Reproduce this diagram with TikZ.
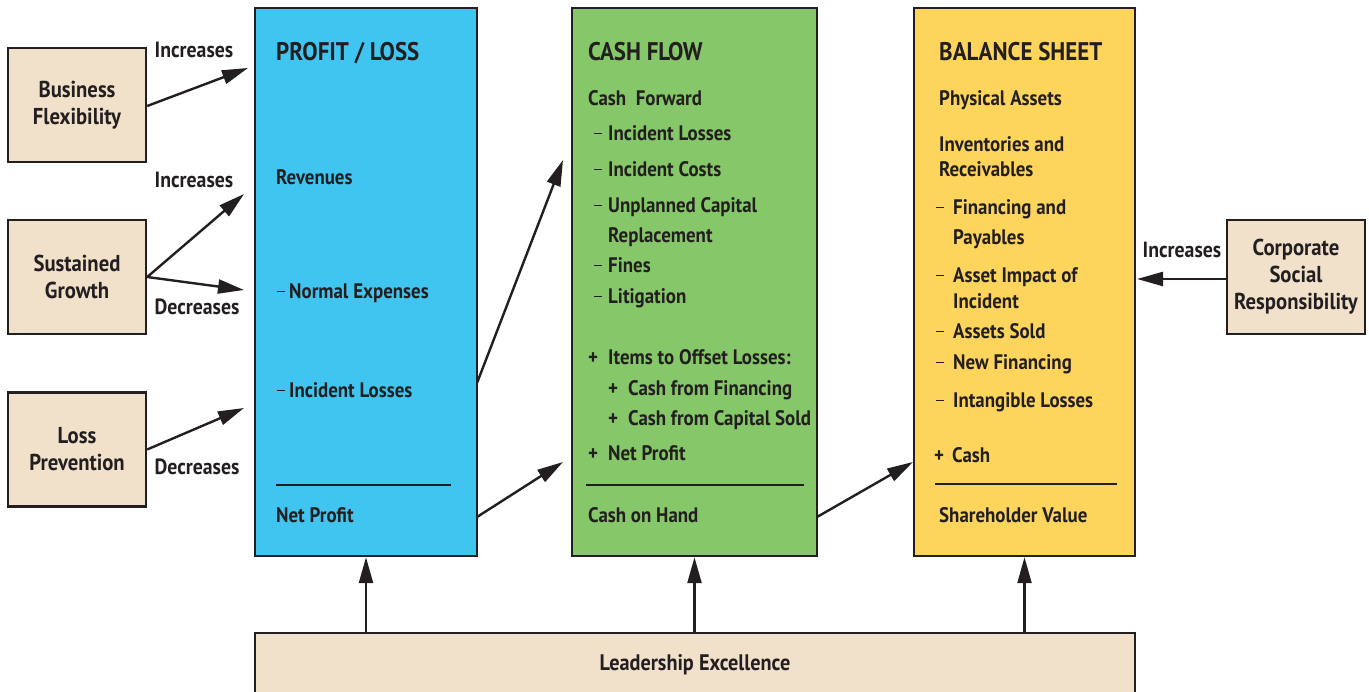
\documentclass[tikz,border=0pt]{standalone}
\usepackage{fontspec}
\setmainfont{PT Sans}[FakeStretch=0.9]
\usetikzlibrary{arrows.meta}
\definecolor{plblue}{HTML}{40C5F1}
\definecolor{cfgreen}{HTML}{86C76A}
\definecolor{bsyellow}{HTML}{FED55C}
\definecolor{beige}{HTML}{F1E1CB}
\definecolor{ink}{HTML}{231F20}
\newcommand\di[2]{\makebox[#1][l]{\rule[6.5pt]{8pt}{1.8pt}}#2}
\newcommand\pl[2]{\makebox[#1][l]{+}#2}
\begin{document}
\begin{tikzpicture}[x=1pt,y=-1pt,
  bigbox/.style={draw=ink,line width=2.4pt,inner sep=0pt,minimum height=548pt},
  sidebox/.style={draw=ink,line width=2.4pt,fill=beige,inner sep=0pt,minimum width=138pt,minimum height=114pt,align=center,font=\fontsize{23}{27}\selectfont\bfseries,text=ink},
  txt/.style={anchor=base west,inner sep=0pt,font=\fontsize{21}{25}\selectfont\bfseries,text=ink},
  head/.style={anchor=base west,inner sep=0pt,font=\fontsize{25.5}{30}\selectfont\bfseries,text=ink},
  lbl/.style={anchor=base,inner sep=0pt,font=\fontsize{22}{26}\selectfont\bfseries,text=ink},
  arr/.style={draw=ink,line width=2.4pt,-{Triangle[length=26pt,width=14pt]}},
  rule/.style={draw=ink,line width=2pt}]
\useasboundingbox (0,0) rectangle (1369,692);
\clip (0,0) rectangle (1369,692);

% big boxes
\node[bigbox,fill=plblue,minimum width=222pt] (plb) at (366,282) {};
\node[bigbox,fill=cfgreen,minimum width=245pt] (cfb) at (694.5,282) {};
\node[bigbox,fill=bsyellow,minimum width=221pt] (bsb) at (1024.5,282) {};

% side boxes
\node[sidebox] (bf) at (77,105) {Business\\Flexibility};
\node[sidebox] (sg) at (77,277) {Sustained\\Growth};
\node[sidebox] (lp) at (77,449.5) {Loss\\Prevention};
\node[sidebox] (csr) at (1296,277) {Corporate\\Social\\Responsibility};
\node[sidebox,minimum width=880pt,minimum height=64pt,font=\fontsize{22.5}{27}\selectfont\bfseries] (le) at (695,665) {Leadership Excellence};

% profit / loss
\node[head] (plt) at (276,61) {PROFIT / LOSS};
\node[txt] (pl1) at (276,185) {Revenues};
\node[txt] (pl2) at (277,299) {\di{12pt}{Normal Expenses}};
\node[txt] (pl3) at (277,398) {\di{12pt}{Incident Losses}};
\node[txt] (pl4) at (276,522) {Net Profit};
\draw[rule] (276,485) -- (451,485);

% cash flow
\node[head] (cft) at (588,61) {CASH FLOW};
\node[txt] (cf1) at (588,106) {Cash\ \ Forward};
\node[txt] (cf2) at (594,141) {\di{14pt}{Incident Losses}};
\node[txt] (cf3) at (594,177) {\di{14pt}{Incident Costs}};
\node[txt] (cf4) at (594,213) {\di{14pt}{Unplanned Capital}};
\node[txt] (cf5) at (608,243) {Replacement};
\node[txt] (cf6) at (594,273) {\di{14pt}{Fines}};
\node[txt] (cf7) at (594,304) {\di{14pt}{Litigation}};
\node[txt] (cf8) at (588,365) {\pl{20pt}{Items to Offset Losses:}};
\node[txt] (cf9) at (608,396) {\pl{20pt}{Cash from Financing}};
\node[txt] (cf10) at (608,426) {\pl{20pt}{Cash from Capital Sold}};
\node[txt] (cf11) at (588,461) {\pl{20pt}{Net Profit}};
\node[txt] (cf12) at (588,522) {Cash on Hand};
\draw[rule] (586,485) -- (804,485);

% balance sheet
\node[head] (bst) at (939,61) {BALANCE SHEET};
\node[txt] (bs1) at (939,106) {Physical Assets};
\node[txt] (bs2) at (939,152) {Inventories and};
\node[txt] (bs3) at (939,177) {Receivables};
\node[txt] (bs4) at (936,215) {\di{17pt}{Financing and}};
\node[txt] (bs5) at (953,245) {Payables};
\node[txt] (bs6) at (936,283) {\di{17pt}{Asset Impact of}};
\node[txt] (bs7) at (953,309) {Incident};
\node[txt] (bs8) at (936,339) {\di{17pt}{Assets Sold}};
\node[txt] (bs9) at (936,370) {\di{17pt}{New Financing}};
\node[txt] (bs10) at (936,408) {\di{17pt}{Intangible Losses}};
\node[txt] (bs11) at (934,463) {\pl{18pt}{Cash}};
\node[txt] (bs12) at (939,522) {Shareholder Value};
\draw[rule] (935,484) -- (1117,484);

% arrow end coordinates
\coordinate (e1) at (248,68);
\coordinate (e2) at (244,194);
\coordinate (e3) at (244,290);
\coordinate (e4) at (244,408);
\coordinate (s5) at (477,383);
\coordinate (e5) at (563,160);
\coordinate (s6) at (477,517);
\coordinate (e6) at (563,462);
\coordinate (s7) at (817,517);
\coordinate (e7) at (913,462);
\coordinate (e8) at (1137,279);

\draw[arr] (bf.east) ++(0,1) -- (e1);
\draw[arr] (sg.east) -- (e2);
\draw[arr] (sg.east) -- (e3);
\draw[arr] (lp.east) -- (e4);
\draw[arr] (s5) -- (e5);
\draw[arr] (s6) -- (e6);
\draw[arr] (s7) -- (e7);
\draw[arr] (csr.west) ++(0,2) -- (e8);
\draw[arr] (le.north -| plb.south) -- (plb.south);
\draw[arr] (le.north -| cfb.south) -- (cfb.south);
\draw[arr] (le.north -| bsb.south) -- (bsb.south);

% arrow labels
\node[lbl] (l1) at (194,58) {Increases};
\node[lbl] (l2) at (194,188) {Increases};
\node[lbl] (l3) at (197,315) {Decreases};
\node[lbl] (l4) at (197,475) {Decreases};
\node[lbl] (l5) at (1182,258) {Increases};
\end{tikzpicture}
\end{document}
